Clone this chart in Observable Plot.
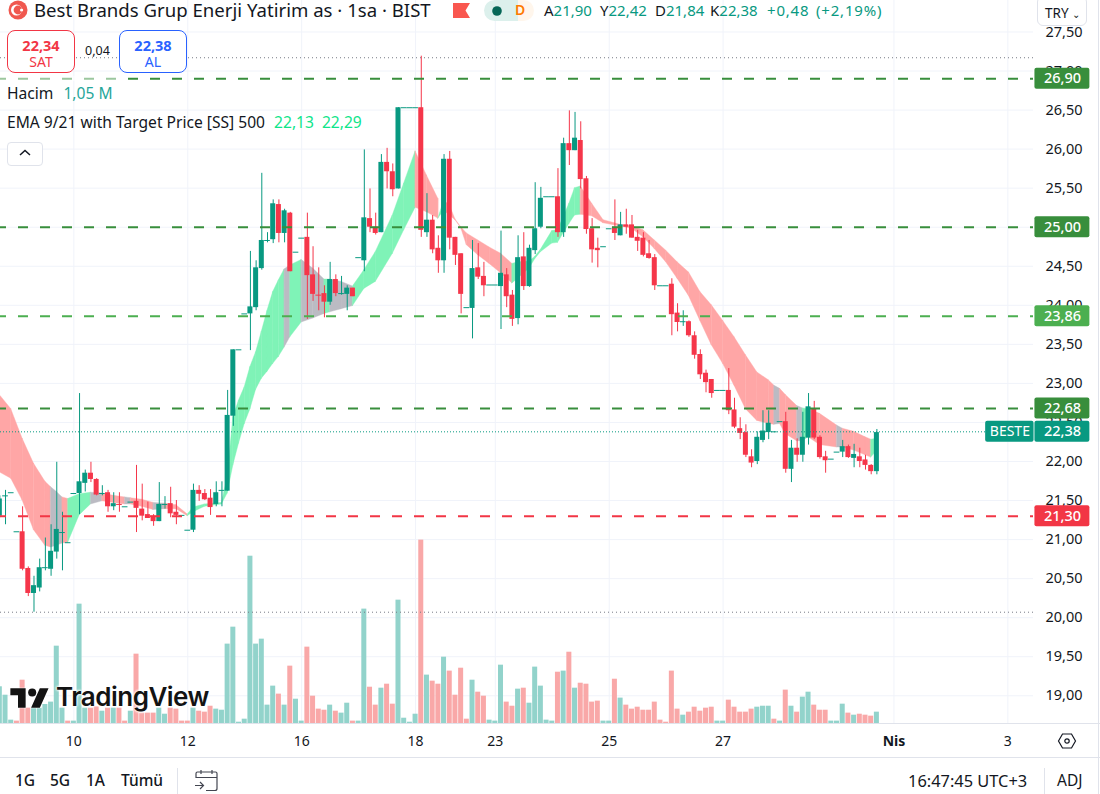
<!DOCTYPE html>
<html lang="tr">
<head>
<meta charset="utf-8">
<script src="https://cdn.jsdelivr.net/npm/d3@7"></script>
<script src="https://cdn.jsdelivr.net/npm/@observablehq/plot@0.6"></script>
<style>
html,body{margin:0;padding:0;background:#fff;overflow:hidden;width:1100px;height:794px;font-family:"Noto Sans",sans-serif;color:#131722}
#chart{position:absolute;left:0;top:0}
.o{position:absolute;white-space:nowrap;line-height:1.2}
.box{position:absolute;box-sizing:border-box;border-radius:8px;background:#fff;text-align:center}
.box b{display:block;font-size:14.5px;font-weight:700;margin-top:6px;line-height:16px}
.box span{display:block;font-size:14px;line-height:17px}
</style>
</head>
<body>
<div id="chart"></div>

<!-- header -->
<svg class="o" style="left:8px;top:0" width="20" height="20" viewBox="0 0 20 20"><circle cx="10" cy="10" r="9.5" fill="#f0584f"/><circle cx="8.5" cy="10" r="5.5" fill="#fff"/><circle cx="10" cy="10" r="4.4" fill="#f0584f"/><circle cx="13.6" cy="10" r="1.6" fill="#fff"/></svg>
<div class="o" style="left:34px;top:0;font-size:18.6px;line-height:20px;height:24px">Best Brands Grup Enerji Yatirim as · 1sa · BIST</div>
<svg class="o" style="left:453px;top:3px" width="17" height="15"><path d="M0 0H17L12.5 7.5L17 15H0Z" fill="#f9574f"/></svg>
<div class="o" style="left:484px;top:0;width:50px;height:21px;border-radius:11px;background:linear-gradient(90deg,#dcf0ec 0 68%,#fff6ec 68%)"></div>
<svg class="o" style="left:490px;top:4px" width="14" height="14"><circle cx="7" cy="7" r="4.8" fill="#056656"/></svg>
<div class="o" style="left:515px;top:2px;font-size:14px;font-weight:600;color:#ff7a00">D</div>
<div class="o" style="left:544px;top:1px;font-size:15px">A<span style="color:#089981">21,90</span></div>
<div class="o" style="left:600px;top:1px;font-size:15px">Y<span style="color:#089981">22,42</span></div>
<div class="o" style="left:655px;top:1px;font-size:15px">D<span style="color:#089981">21,84</span></div>
<div class="o" style="left:710px;top:1px;font-size:15px">K<span style="color:#089981">22,38</span></div>
<div class="o" style="left:767px;top:1px;font-size:15px;color:#089981;letter-spacing:.8px;word-spacing:2px">+0,48 (+2,19%)</div>
<div class="o" style="left:1037px;top:-4px;width:50px;height:30px;border:1px solid #e0e3eb;border-radius:6px;box-sizing:border-box;font-size:13.5px;padding:8px 0 0 7px;background:#fff">TRY <span style="font-size:10px">⌄</span></div>

<div class="box" style="left:7px;top:30px;width:68px;height:43px;border:1px solid #f23645;color:#f23645"><b>22,34</b><span>SAT</span></div>
<div class="o" style="left:85px;top:43px;font-size:12.5px">0,04</div>
<div class="box" style="left:119px;top:30px;width:68px;height:43px;border:1px solid #2962ff;color:#2962ff"><b>22,38</b><span>AL</span></div>
<div class="o" style="left:0;top:76px;width:119px;height:5px;background:rgba(255,255,255,.5)"></div>

<div class="o" style="left:7px;top:84px;font-size:15.6px">Hacim <span style="color:#26a69a;margin-left:6px">1,05 M</span></div>
<div class="o" style="left:7px;top:113px;font-size:15.6px">EMA 9/21 with Target Price [SS] 500 <span style="color:#0ee58a;margin-left:5px">22,13</span><span style="color:#0ee58a;margin-left:8px">22,29</span></div>
<div class="o" style="left:7px;top:142px;width:36px;height:24px;box-sizing:border-box;border:1px solid #e0e3eb;border-radius:4px;background:#fff"></div>
<svg class="o" style="left:18px;top:148px" width="14" height="10"><path d="M2 7L7 2.5L12 7" fill="none" stroke="#131722" stroke-width="1.5"/></svg>

<!-- logo -->
<svg class="o" style="left:10px;top:686px" width="40" height="24" viewBox="0 0 36 22"><path d="M14 2H0v6.5h7V20h7V2zM27 20h-8L27 2h8L27 20z" fill="#131313" stroke="#fff" stroke-width="1" paint-order="stroke"/><circle cx="20" cy="6" r="3.7" fill="#131313"/></svg>
<div class="o" style="left:56px;top:681px;font-family:Inter,sans-serif;font-weight:600;font-size:26px;color:#131313;letter-spacing:-.5px;text-shadow:0 0 3px #fff,0 0 3px #fff,0 0 3px #fff">TradingView</div>

<!-- footer -->
<div class="o" style="left:0;top:757px;width:1100px;height:1px;background:#e0e3eb"></div>
<div class="o" style="left:1098px;top:0;width:1px;height:794px;background:#e0e3eb"></div>
<div class="o" style="left:15px;top:771px;font-size:15.5px;font-weight:500">1G</div>
<div class="o" style="left:50px;top:771px;font-size:15.5px;font-weight:500">5G</div>
<div class="o" style="left:86px;top:771px;font-size:15.5px;font-weight:500">1A</div>
<div class="o" style="left:121px;top:771px;font-size:15.5px;font-weight:500">Tümü</div>
<div class="o" style="left:177px;top:768px;width:1px;height:26px;background:#e0e3eb"></div>
<svg class="o" style="left:194px;top:769px" width="24" height="24" fill="none" stroke="#434651" stroke-width="1.2"><path d="M2 9V4.5Q2 3 3.5 3H21.5Q23 3 23 4.5V19.5Q23 21.5 21 21.5H12M2 8.5H23M7 1V5M18 1V5M1 16.5H9M6 13L9.5 16.5L6 20"/></svg>
<div class="o" style="left:908px;top:771px;font-size:16.4px">16:47:45 UTC+3</div>
<div class="o" style="left:1044px;top:768px;width:1px;height:26px;background:#e0e3eb"></div>
<div class="o" style="left:1057px;top:771px;font-size:15.5px">ADJ</div>
<svg class="o" style="left:1057px;top:732px" width="20" height="18" fill="none" stroke="#131722" stroke-width="1.2"><path d="M1.5 9L5.5 2H14.5L18.5 9L14.5 16H5.5Z"/><circle cx="10" cy="9" r="2.2"/></svg>

<script>
// ---- OHLC per hourly bar ----
const candleOpen = [21.30,21.55,21.60,21.10,21.10,20.63,20.31,20.38,20.64,20.62,20.84,21.09,20.96,21.59,21.59,21.72,21.85,21.77,21.59,21.60,21.42,21.46,21.42,21.48,21.49,21.39,21.32,21.30,21.23,21.45,21.46,21.35,21.31,21.12,21.12,21.63,21.59,21.53,21.45,21.63,21.62,22.58,23.43,23.89,23.89,23.97,24.47,24.83,24.84,25.29,24.92,25.18,24.68,24.86,24.87,24.39,24.14,24.15,24.04,24.33,24.15,24.14,24.22,24.61,24.57,25.11,25.00,24.93,25.83,25.71,25.49,26.53,26.53,26.53,26.53,24.93,25.09,24.73,24.57,25.87,24.87,24.66,23.97,23.96,24.48,24.37,24.26,24.26,24.24,24.39,24.13,23.83,24.62,24.24,24.70,25.00,25.39,25.39,25.39,24.93,26.07,25.98,26.11,25.62,24.98,24.73,24.75,24.98,25.00,24.89,25.03,25.03,24.87,24.86,24.66,24.61,24.25,24.25,24.27,23.90,23.79,23.79,23.61,23.37,23.13,23.05,22.91,22.91,22.91,22.66,22.42,22.37,22.06,22.00,22.27,22.37,22.38,22.51,22.51,21.90,22.17,22.08,22.30,22.67,22.31,22.06,22.03,22.12,22.12,22.19,22.04,22.06,22.02,21.95,21.87];
const candleHigh = [21.56,21.63,21.60,21.10,21.42,20.65,20.53,20.75,21.02,21.19,21.99,21.35,20.96,21.59,22.87,21.89,21.99,21.78,21.69,21.63,21.60,21.60,21.42,21.48,21.95,21.71,21.48,21.32,21.73,21.55,21.67,21.50,21.31,21.12,21.71,21.69,21.64,21.64,21.74,21.74,22.91,23.43,23.43,23.89,24.69,24.57,25.69,24.93,25.35,25.35,25.23,25.19,24.68,24.86,25.18,24.75,24.48,24.25,24.55,24.39,24.37,24.25,24.22,24.61,25.99,25.49,25.18,25.93,26.01,25.81,26.53,26.53,26.53,26.53,27.19,25.43,25.15,24.89,25.93,25.97,24.87,24.66,23.97,24.83,24.79,24.55,24.26,24.26,24.95,24.47,24.19,24.89,24.93,24.77,25.57,25.51,25.39,25.39,25.75,26.14,26.49,26.47,26.35,25.65,25.11,24.86,24.75,24.98,25.35,25.19,25.23,25.15,24.96,24.93,24.83,24.65,24.25,24.25,24.34,24.02,23.93,23.80,23.66,23.43,23.17,23.05,22.91,22.91,23.19,22.81,22.56,22.47,22.15,22.38,22.65,22.65,22.38,22.51,22.63,22.27,22.29,22.63,22.87,22.77,22.33,22.13,22.03,22.12,22.27,22.21,22.22,22.17,22.08,21.96,22.41];
const candleLow = [21.28,21.19,21.60,21.10,20.60,20.27,20.07,20.33,20.60,20.53,20.75,20.60,20.96,21.59,21.32,21.61,21.73,21.56,21.56,21.35,21.37,21.35,21.42,21.48,21.09,21.24,21.27,21.17,21.23,21.39,21.28,21.19,21.31,21.12,21.09,21.49,21.50,21.31,21.42,21.42,21.62,22.45,23.43,23.89,23.42,23.93,24.45,24.80,24.79,24.80,24.80,24.43,24.68,24.86,23.82,24.05,23.93,23.84,24.00,24.11,24.13,23.93,24.11,24.61,24.43,24.93,24.90,24.93,25.49,25.39,25.49,26.53,26.53,26.53,24.87,24.87,24.66,24.41,24.41,24.71,24.51,23.89,23.97,23.57,24.33,24.11,24.26,24.26,23.69,23.97,23.73,23.75,24.19,24.23,24.65,24.98,25.39,25.39,24.87,24.87,25.79,25.98,25.49,24.91,24.54,24.48,24.75,24.98,24.83,24.89,24.91,24.86,24.69,24.62,24.59,24.19,24.25,24.25,23.61,23.66,23.73,23.59,23.31,23.05,22.88,22.81,22.91,22.91,22.60,22.42,22.28,22.05,21.92,21.96,22.24,22.28,22.38,22.51,21.85,21.73,21.99,21.99,22.21,22.28,22.03,21.85,22.03,22.12,22.05,22.04,21.92,21.92,21.89,21.83,21.83];
const candleClose = [21.52,21.56,21.60,21.10,20.62,20.31,20.41,20.64,20.64,20.85,21.13,21.09,20.96,21.59,21.74,21.85,21.77,21.57,21.59,21.42,21.46,21.45,21.42,21.48,21.40,21.30,21.27,21.23,21.45,21.45,21.33,21.31,21.31,21.12,21.63,21.58,21.51,21.41,21.60,21.63,22.59,23.43,23.43,23.89,23.98,24.48,24.83,24.83,25.30,24.92,25.21,24.43,24.68,24.86,24.38,24.14,24.13,24.04,24.33,24.15,24.15,24.22,24.11,24.61,25.12,25.00,24.92,25.83,25.71,25.48,26.53,26.53,26.53,26.53,24.96,25.09,24.71,24.57,25.87,24.86,24.64,24.14,23.97,24.47,24.36,24.25,24.26,24.26,24.41,24.11,23.82,24.61,24.24,24.73,24.98,25.37,25.39,25.39,24.93,26.07,25.98,26.14,25.61,24.97,24.71,24.70,24.75,24.98,24.92,25.03,25.00,24.86,24.82,24.64,24.60,24.25,24.25,24.25,23.88,23.78,23.79,23.61,23.36,23.11,23.01,22.87,22.91,22.91,22.65,22.44,22.36,22.08,21.98,22.31,22.39,22.49,22.38,22.51,21.90,22.17,22.08,22.31,22.70,22.30,22.05,22.01,22.03,22.12,22.19,22.05,22.09,22.00,21.95,21.87,22.37];

// ---- Volume (millions) and its colour flag ----
const volumeM = [3.40,2.62,0.31,0.22,4.01,1.42,1.42,1.42,1.76,1.98,7.16,1.42,0.22,0.22,11.05,1.42,1.42,1.54,1.14,1.42,1.42,1.42,0.22,1.14,6.42,0.96,0.96,0.96,1.42,0.86,1.42,1.33,0.22,0.22,1.42,1.14,1.05,1.60,1.33,1.23,7.35,8.92,0.12,0.40,15.49,7.35,7.81,1.70,3.46,2.72,1.70,5.31,2.25,0.22,7.07,2.53,1.33,1.23,1.70,1.14,0.96,1.88,0.22,0.22,10.59,3.36,1.70,3.27,3.64,1.79,11.42,0.49,0.12,0.86,16.98,4.48,3.92,3.64,6.14,4.85,2.62,5.12,0.40,4.01,2.90,2.53,0.31,0.22,5.40,1.98,1.60,3.18,3.27,1.88,5.22,3.46,0.31,0.22,4.75,4.85,6.60,3.27,3.73,3.64,1.98,2.07,0.22,0.22,4.10,2.35,1.70,1.33,1.51,1.23,1.23,1.98,0.31,0.12,4.85,1.33,0.77,1.05,1.51,1.14,1.42,1.51,0.22,0.22,2.16,1.51,1.05,1.05,1.33,1.51,1.60,1.60,0.40,0.22,3.09,1.60,1.05,2.44,2.90,1.70,1.23,1.23,0.22,0.22,1.79,0.96,0.77,0.86,0.77,0.68,1.05];
const volumeDir = ["tttrrrtttt","ttrtttrrtr","trrtrrrrtt","rrrrtrrrtt","tttttttttr","trttrrrrtr","ttrttrrtrr","ttttrtrrtr","rrrtrrtttr","rtrtttttrt","rtrrrrttrt","rrrrrrrrrr","trrrrrttrr","rrrtttrtrt","rttrrrtttr","trrrt"].join("");

// ---- EMA band: upper / lower edge at bar positions, state of the stretch that starts there ----
const bandIdx   = [0,2,4,6,8,9,10,11,12,14,16,18,20,22,23,25,27,29,31,33,34,36,39,40,41,42,43,44,45,46,47,48,49,50,51,53,55,57,58,60,62,64,66,69,71,73,75,77,77,78,79,80,81,82,84,86,88,90,91,93,94,95,97,98,100,101,102,104,106,109,111,113,115,117,119,121,123,125,127,129,131,133,135,136,137,138,140,141,142,144,147,148,150,152,153,154];
const bandUpper = [22.85,22.67,22.29,21.97,21.74,21.67,21.61,21.54,21.52,21.58,21.60,21.59,21.56,21.54,21.53,21.51,21.47,21.46,21.44,21.32,21.41,21.45,21.47,21.80,22.57,22.78,22.95,23.21,23.40,23.66,23.93,24.17,24.32,24.46,24.51,24.58,24.47,24.33,24.33,24.30,24.24,24.45,24.68,25.15,25.56,25.97,25.66,25.36,25.11,25.34,25.28,25.10,25.00,24.92,24.83,24.74,24.66,24.53,24.55,24.56,24.62,24.71,24.95,24.96,25.30,25.50,25.52,25.30,25.09,25.03,25.01,24.96,24.83,24.70,24.55,24.42,24.17,24.00,23.80,23.59,23.36,23.14,23.04,22.97,22.93,22.85,22.71,22.68,22.67,22.61,22.46,22.42,22.38,22.31,22.28,22.29];
const bandLower = [21.86,21.78,21.50,21.12,20.92,20.90,20.92,20.95,20.96,21.31,21.45,21.49,21.47,21.45,21.45,21.42,21.38,21.39,21.39,21.30,21.35,21.42,21.45,21.59,21.95,22.23,22.48,22.67,22.92,23.06,23.15,23.25,23.34,23.46,23.59,23.78,23.83,23.89,23.91,23.95,23.99,24.21,24.30,24.66,24.96,25.25,25.19,25.11,25.11,25.21,25.15,25.09,24.99,24.77,24.64,24.53,24.41,24.28,24.34,24.47,24.59,24.68,24.79,24.80,25.04,25.15,25.16,25.14,25.05,25.01,24.98,24.87,24.72,24.55,24.34,24.12,23.80,23.49,23.25,22.97,22.67,22.52,22.48,22.47,22.48,22.35,22.26,22.26,22.31,22.21,22.18,22.18,22.14,22.08,22.05,22.13];
const bandState = ["rrrrryyrggyrryrryrr","gggggggggggggg","ygyygyyggggg","rrrgrrrrrrrrggggggggg","rrrrrrrrrrrrrrrrr","yrrygrryrrrgg"].join("");

// ---- Levels, ticks, labels ----
const levelPrices = [26.90,25.00,23.86,22.68,21.30];
const levelColors = ["#388e3c","#388e3c","#4caf50","#388e3c","#f23645"];
const priceTicks = [19,19.5,20,20.5,21,21.5,22,22.5,23,23.5,24,24.5,25,25.5,26,26.5,27,27.5];
const dayTickIdx = [13,33,53,73,87,107,127,157,177];
const dayTickLabels = ["10","12","16","18","23","25","27","Nis","3"];
const lastPrice = 22.38, sessionHigh = 27.17, sessionLow = 20.07;

const UP = "#089981", DOWN = "#f5364a";
const VOL_UP = "#92d3cb", VOL_DOWN = "#f9a8a8";
const BAND = {r:"#ffa6a6", g:"#7ff3b7", y:"#bbbbc3"};
const XMIN = 0.118, XMAX = 181.5, YMIN = 18.645, YMAX = 27.903;
const VOL_UNIT = 0.1383; // price units per million of volume
const comma = d => d.toFixed(2).replace(".", ",");

const candles = candleOpen.map((o,i)=>({i,o,h:candleHigh[i],l:candleLow[i],c:candleClose[i],
  col: candleClose[i] < candleOpen[i] - 0.004 ? DOWN : UP}));
const isFlat = d => Math.abs(d.o-d.c) < 0.022;
const volumes = volumeM.map((v,i)=>({i,v,col:volumeDir[i]==="t"?VOL_UP:VOL_DOWN}));
const band = [];
for (let k=0;k<bandIdx.length-1;k++) for (const j of [k,k+1])
  band.push({seg:k,i:bandIdx[j],up:bandUpper[j],lo:bandLower[j],col:BAND[bandState[k]]});

const tagH = 10.5/78.1;
const tags = [
  ...levelPrices.map((p,k)=>({x1:181.75,x2:191.4,p,col:levelColors[k],t:comma(p)})),
  {x1:181.75,x2:191.4,p:lastPrice,col:UP,t:comma(lastPrice)}
];
const nisIdx = dayTickLabels.indexOf("Nis");

const plot = Plot.plot({
  width:1100, height:794, marginTop:0, marginLeft:0, marginRight:67, marginBottom:71,
  style:{fontFamily:'"Noto Sans",sans-serif',background:"transparent",overflow:"hidden"},
  x:{domain:[XMIN,XMAX],range:[0,1033],axis:null},
  y:{domain:[YMIN,YMAX],range:[723,0],axis:null},
  color:{type:"identity"},
  marks:[
    Plot.ruleY(d3.range(19,28,0.5),{x1:XMIN,x2:XMAX,stroke:"#f0f3fa",strokeWidth:1}),
    Plot.ruleX(dayTickIdx,{y1:YMIN,y2:YMAX,stroke:"#f0f3fa",strokeWidth:1}),
    Plot.rect(volumes,{x1:d=>d.i-0.44,x2:d=>d.i+0.44,y1:YMIN,y2:d=>YMIN+d.v*VOL_UNIT,fill:"col"}),
    Plot.areaY(band,{x:"i",y1:"lo",y2:"up",z:"seg",fill:"col",stroke:"col",strokeWidth:0.4}),
    Plot.ruleX(candles,{x:"i",y1:"l",y2:"h",stroke:"col",strokeWidth:1}),
    Plot.rect(candles.filter(d=>!isFlat(d)),{x1:d=>d.i-0.44,x2:d=>d.i+0.44,y1:"o",y2:"c",fill:"col"}),
    Plot.ruleY(candles.filter(isFlat),{x1:d=>d.i-0.5,x2:d=>d.i+0.5,y:"c",stroke:"col",strokeWidth:1}),
    Plot.ruleY(levelPrices,{x1:XMIN,x2:XMAX,stroke:(d,k)=>levelColors[k],strokeWidth:2,strokeDasharray:"10 12",strokeDashoffset:4}),
    Plot.ruleY([lastPrice],{x1:XMIN,x2:XMAX,stroke:UP,strokeWidth:1,strokeDasharray:"1 2"}),
    Plot.ruleY([sessionHigh,sessionLow],{x1:XMIN,x2:XMAX,stroke:"#787b86",strokeWidth:1,strokeDasharray:"1 3"}),
    Plot.ruleY([YMIN],{x1:XMIN,x2:195,stroke:"#e0e3eb",strokeWidth:1}),
    Plot.axisY(priceTicks,{anchor:"right",label:null,tickSize:0,tickPadding:12,tickFormat:comma,fontSize:14.5,fill:"#131722"}),
    Plot.axisX(dayTickIdx.filter((_,k)=>k!==nisIdx),{anchor:"bottom",label:null,tickSize:0,tickPadding:13,fontSize:14,fill:"#131722",
      tickFormat:d=>dayTickLabels[dayTickIdx.indexOf(d)]}),
    Plot.axisX([dayTickIdx[nisIdx]],{anchor:"bottom",label:null,tickSize:0,tickPadding:13,fontSize:14,fontWeight:700,fill:"#131722",
      tickFormat:()=>dayTickLabels[nisIdx]}),
    Plot.rect(tags,{x1:"x1",x2:"x2",y1:d=>d.p-tagH,y2:d=>d.p+tagH,fill:"col",rx:2}),
    Plot.rect([lastPrice],{x1:173.1,x2:181.6,y1:d=>d-tagH,y2:d=>d+tagH,fill:UP,rx:2}),
    Plot.text(tags,{x:186.6,y:"p",text:"t",fill:"#fff",fontSize:14.5,fontWeight:500}),
    Plot.text(["BESTE"],{x:177.35,y:lastPrice,text:d=>d,fill:"#fff",fontSize:14})
  ]
});
document.getElementById("chart").append(plot);
</script>
</body>
</html>
